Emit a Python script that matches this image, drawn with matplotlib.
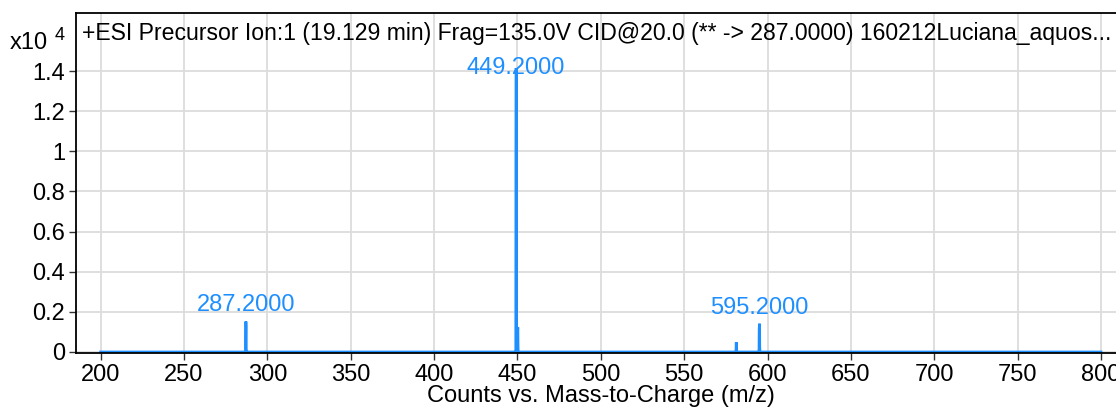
import numpy as np
import matplotlib
matplotlib.use("Agg")
import matplotlib.pyplot as plt

plt.rcParams['font.family'] = ['Liberation Sans', 'DejaVu Sans']

# Profile spectrum (m/z, counts)
mz = [200.0, 286.9, 287.0, 287.1, 287.2, 287.3, 287.4, 288.3,
      448.9, 449.0, 449.1, 449.2, 449.3, 449.4, 450.0, 450.1, 450.2, 450.3, 450.4,
      581.0, 581.1, 581.2, 581.3, 581.4, 581.5,
      594.8, 594.9, 595.0, 595.1, 595.2, 595.3, 595.4, 800.0]
counts = [0, 0, 800, 1520, 1300, 200, 0, 0,
          0, 0, 9800, 14150, 13900, 0, 0, 1100, 1230, 400, 0,
          0, 0, 480, 450, 0, 0,
          0, 0, 1160, 1300, 1410, 300, 0, 0]

peak_labels = ["287.2000", "449.2000", "595.2000"]
peak_mz = [287.2, 449.2, 595.2]
peak_counts = [1520, 14150, 1410]
label_lift = [12, 0, 11]  # points above peak top

title = ("+ESI Precursor Ion:1 (19.129 min) Frag=135.0V CID@20.0 "
         "(** -> 287.0000) 160212Luciana_aquos...")

blue = "#1e8fff"

fig = plt.figure(figsize=(11.16, 4.08), dpi=100)
ax = fig.add_axes([76 / 1116, 55 / 408, 1060 / 1116, 340 / 408])

ax.plot(mz, counts, color=blue, lw=2.0, solid_joinstyle="miter")
ax.fill_between(mz, counts, color=blue, lw=0)

for lab, x, y, dy in zip(peak_labels, peak_mz, peak_counts, label_lift):
    ax.annotate(lab, (x, y), xytext=(0, dy), textcoords="offset points",
                ha="center", va="center", color=blue, fontsize=17)

ax.set_xlim(185.2, 821.0)
ax.set_ylim(-50, 16890)
ax.set_xticks(np.arange(200, 801, 50))
ax.set_yticks(np.arange(0, 14001, 2000))
ax.set_yticklabels(["0", "0.2", "0.4", "0.6", "0.8", "1", "1.2", "1.4"])

ax.grid(True, color="#dcdcdc", lw=1.3)
ax.set_axisbelow(True)
ax.tick_params(axis="both", labelsize=17, direction="out", length=5,
               width=1, color="#333333", pad=3)
for side in ["left", "bottom", "top"]:
    ax.spines[side].set_linewidth(1.3)
ax.spines["right"].set_visible(False)

ax.text(6 / 1060, 0.941, title, transform=ax.transAxes, fontsize=16.6,
        ha="left", va="center")

fig.text(10 / 1116, 1 - 43 / 408, "x10", fontsize=17, ha="left", va="center")
fig.text(55 / 1116, 1 - 35 / 408, "4", fontsize=13, ha="left", va="center")
fig.text(601 / 1116, 1 - 396 / 408, "Counts vs. Mass-to-Charge (m/z)",
         fontsize=17, ha="center", va="center")

fig.savefig("out.png", dpi=100)
